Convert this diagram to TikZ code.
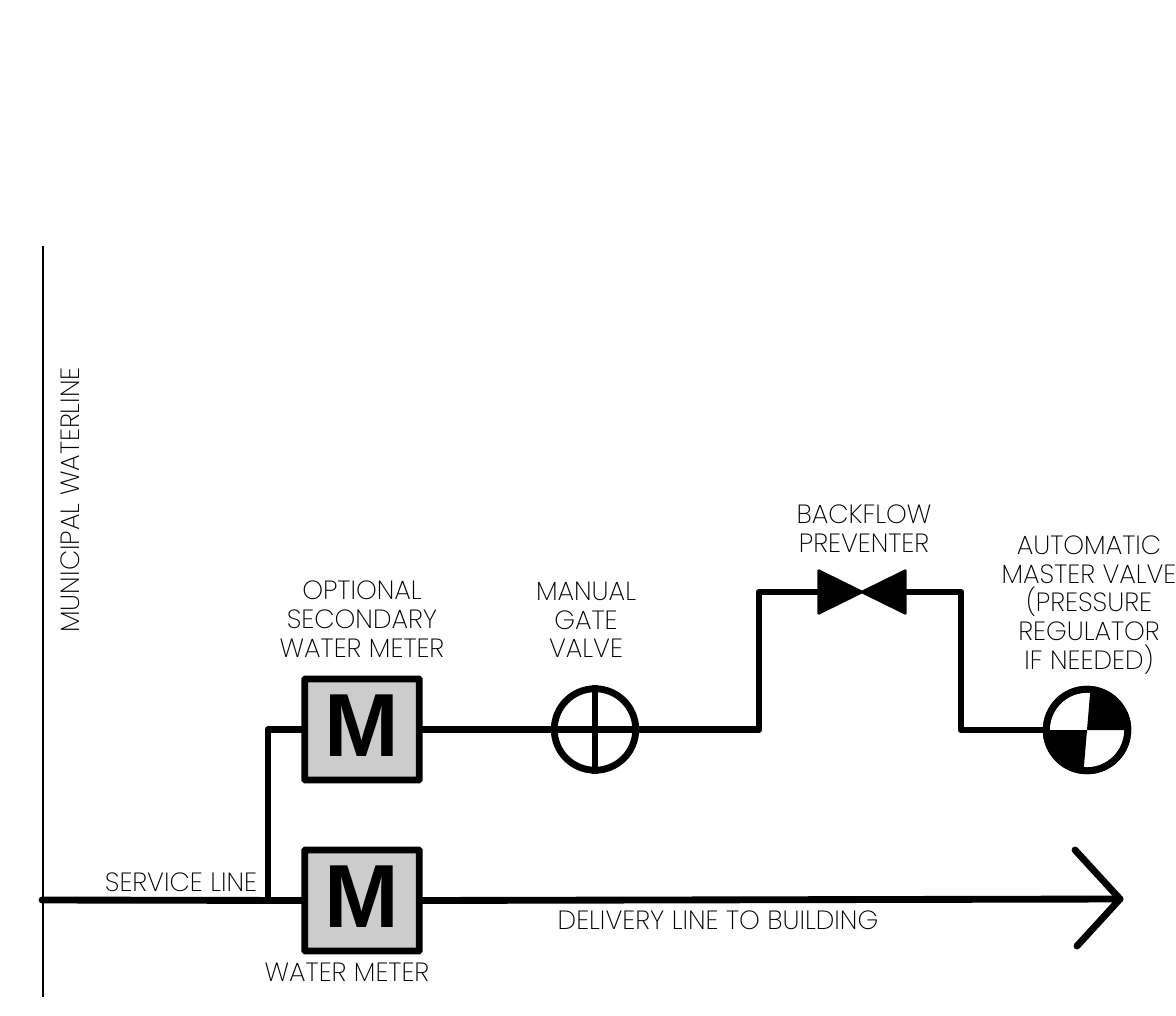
\documentclass[tikz,border=0pt]{standalone}
\usepackage{fontspec}
\setmainfont{Poppins ExtraLight}
\newfontfamily\meterfont{Liberation Sans}[BoldFont=* Bold]
\usetikzlibrary{positioning, calc}

\begin{document}
\begin{tikzpicture}[
            x=0.02cm, y=-0.02cm,
            pipe/.style={line width=3.9pt, line join=round, line cap=round},
            meter/.style={rectangle, draw, fill=black!20, line width=3.9pt, rounded corners=0.4pt, minimum width=114.5*0.02cm, minimum height=101*0.02cm, inner sep=0pt, text depth=4pt, font=\meterfont\bfseries\fontsize{51}{51}\selectfont},
            valve/.style={circle, draw, fill=white, line width=3.9pt, minimum size=81.5*0.02cm, inner sep=0pt},
            lbl/.style={align=center, inner sep=0pt, font=\fontsize{15}{16.4}\selectfont}
        ]
        \useasboundingbox (0,0) rectangle (1176,1016);

        \coordinate (main) at (43,246);
        \coordinate (mainend) at (43,997);
        \coordinate (tap) at (42,900);
        \coordinate (tip) at (1120,899);

        \node[meter] (meterb) at (362,900.5) {M};
        \node[meter] (metert) at (362,729.5) {M};
        \node[valve] (gate) at (595,729.5) {};
        \node[valve] (master) at (1087,730) {};
        \node[minimum width=86*0.02cm, minimum height=42*0.02cm, inner sep=0pt] (bfp) at (862,592) {};

        % Waterline
        \draw[line width=0.85pt] (main) -- (mainend);
        \node[lbl, rotate=90] (muni) at (70,500) {MUNICIPAL WATERLINE};

        % Pipes
        \draw[pipe] (tap) -- (meterb.west);
        \draw[pipe] (meterb.east) -- (tip);
        \draw[pipe] (268,900) |- (metert.west);
        \draw[pipe] (metert.east) -- (gate.west);
        \draw[pipe] (gate.east) -- (759,729.5) |- (bfp.west);
        \draw[pipe] (bfp.east) -- (961,592) |- (master.west);
        \draw[pipe] (1075,850) -- (tip) -- (1077,946);

        % Gate valve details
        \draw[line width=3.9pt] (gate.west) -- (gate.east);
        \draw[line width=3.9pt] (gate.north) -- (gate.south);

        % Master valve quadrants
        \fill (master.center) -- (master.west) arc[start angle=180, end angle=90, radius=40.75] -- cycle;
        \fill (master.center) -- (master.east) arc[start angle=0, end angle=-90, radius=40.75] -- cycle;
        \draw[line width=3.9pt] (master.center) circle[radius=40.75];

        % Backflow preventer
        \fill[draw, line width=1.5pt, line join=round] (bfp.north west) -- (bfp.south east) -- (bfp.north east) -- (bfp.south west) -- cycle;

        % Labels
        \node[lbl, above=0.36cm of metert] (metertl) {OPTIONAL\\SECONDARY\\WATER METER};
        \node[lbl, above=0.54cm of gate, xshift=-0.18cm] (gatel) {MANUAL\\GATE\\VALVE};
        \node[lbl, above=0.36cm of bfp, xshift=0.04cm] (bfpl) {BACKFLOW\\PREVENTER};
        \node[lbl, above=0.22cm of master, xshift=0.04cm] (masterl) {AUTOMATIC\\MASTER VALVE\\(PRESSURE\\REGULATOR\\IF NEEDED)};
        \node[lbl] (meterbl) at (347,972) {WATER METER};
        \node[lbl] (service) at (181,882) {SERVICE LINE};
        \node[lbl] (delivery) at (718,920) {DELIVERY LINE TO BUILDING};

    \end{tikzpicture}
\end{document}
